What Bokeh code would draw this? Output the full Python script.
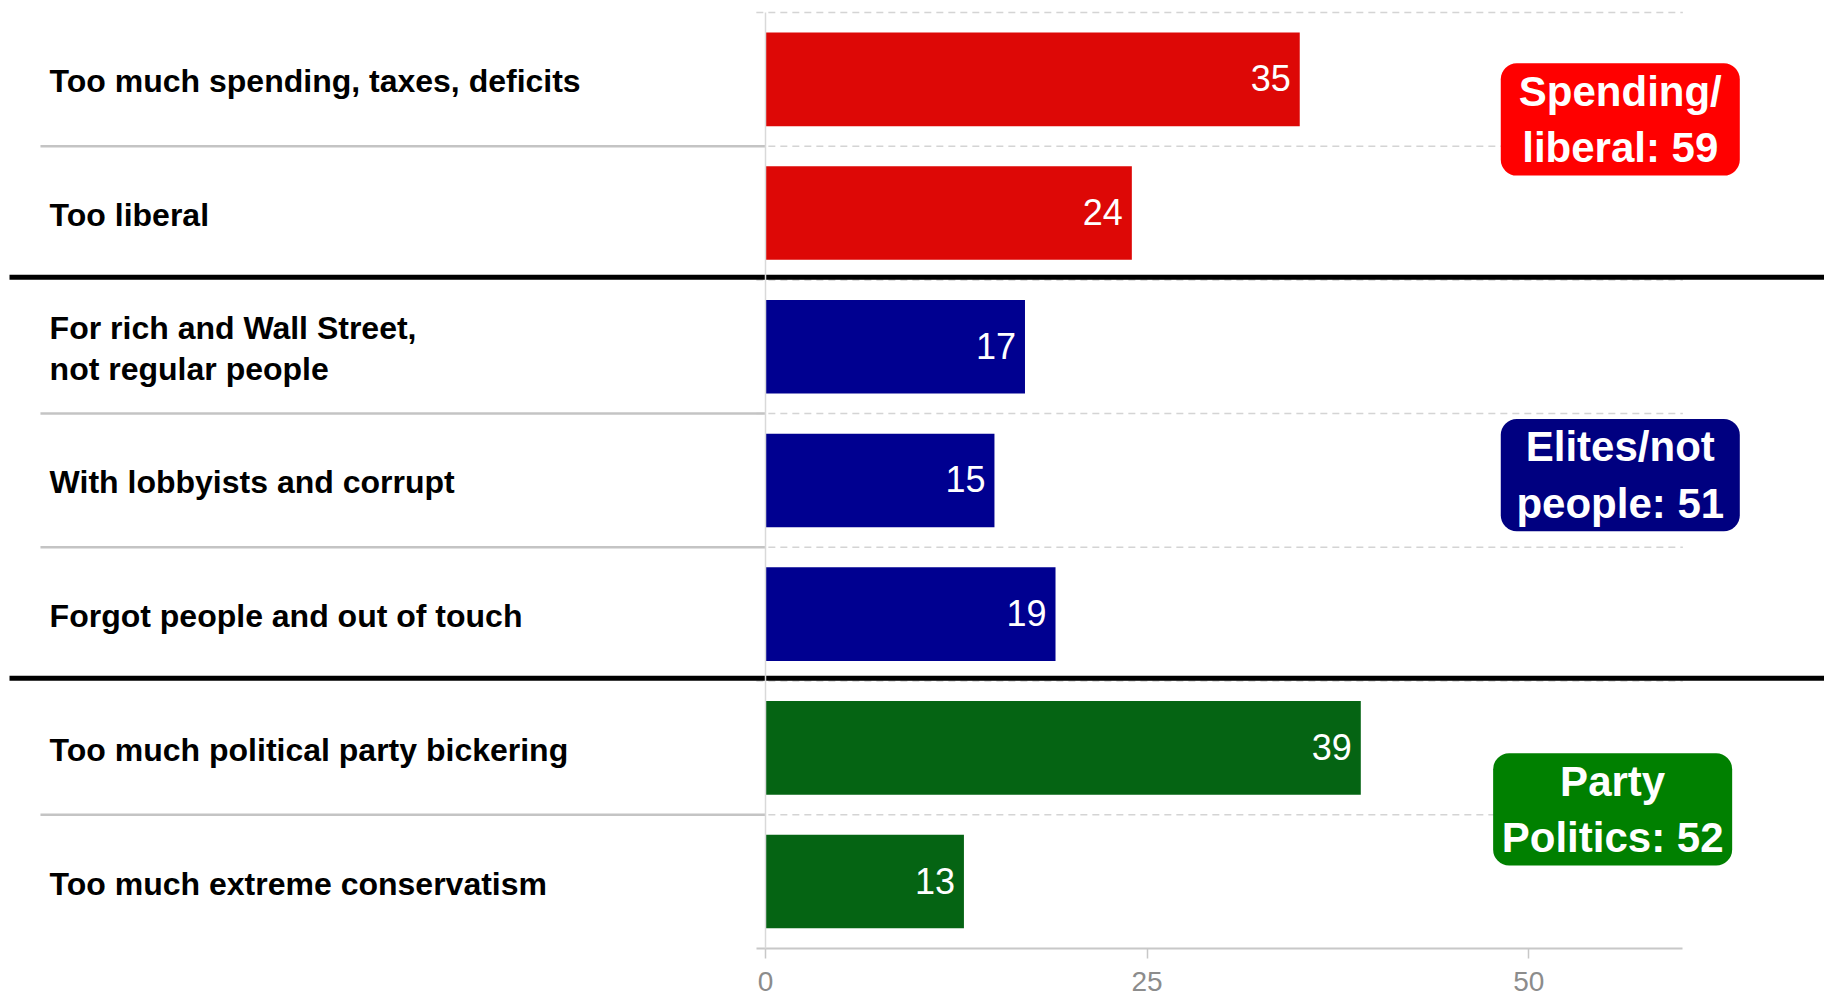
from bokeh.plotting import figure
from bokeh.models import LinearAxis, FixedTicker, Range1d, ColumnDataSource
from bokeh.core.properties import value
from bokeh.embed import file_html
from bokeh.resources import INLINE

# ---------------- data ----------------
categories = [
    "Too much spending, taxes, deficits",
    "Too liberal",
    "For rich and Wall Street,\nnot regular people",
    "With lobbyists and corrupt",
    "Forgot people and out of touch",
    "Too much political party bickering",
    "Too much extreme conservatism",
]
values = [35, 24, 17, 15, 19, 39, 13]
group_of_row = [0, 0, 1, 1, 1, 2, 2]
group_names = ["Spending/\nliberal", "Elites/not\npeople", "Party\nPolitics"]
x_ticks = [0, 25, 50]

# ---------------- style / layout ----------------
bar_colors = ["#dd0806", "#000090", "#056413"]
box_colors = ["#ff0000", "#000080", "#008000"]
FONT = value("Liberation Sans")

W, H = 1824, 1005
PX_PER_UNIT = 15.264      # pixels per x unit
ZERO_X = 765              # canvas x of value 0
ROW_PX = 133.7            # pixels per row
TOP_PX = 12               # canvas y of upper edge of first row

rows = list(range(len(categories)))
n = len(rows)

x_start = -ZERO_X / PX_PER_UNIT
x_end = (W - ZERO_X) / PX_PER_UNIT
y_top = -0.5 - TOP_PX / ROW_PX
y_bottom = -0.5 + (H - TOP_PX) / ROW_PX

p = figure(width=W, height=H, output_backend="svg", toolbar_location=None,
           x_range=Range1d(x_start, x_end), y_range=Range1d(y_bottom, y_top),
           x_axis_location=None, y_axis_location=None,
           min_border=0, min_border_left=0, min_border_right=0,
           min_border_top=0, min_border_bottom=0)
p.outline_line_color = None
p.grid.grid_line_color = None
p.background_fill_color = "white"
p.border_fill_color = "white"

# dashed row gridlines in the bar area
bounds_y = [r - 0.5 for r in rows]
p.segment(x0=[-0.6] * n, x1=[60.1] * n, y0=bounds_y, y1=bounds_y,
          line_color="#d4d4d4", line_width=1.5, line_dash="7 5")

# grey separators in the label area (within a group)
sep_y = [r + 0.5 for r in rows[:-1] if group_of_row[r] == group_of_row[r + 1]]
p.segment(x0=[-47.5] * len(sep_y), x1=[0] * len(sep_y), y0=sep_y, y1=sep_y,
          line_color="#c4c4c4", line_width=2.5)

# black separators between groups
grp_y = [r + 0.48 for r in rows[:-1] if group_of_row[r] != group_of_row[r + 1]]
p.segment(x0=[x_start + 9 / PX_PER_UNIT] * len(grp_y), x1=[x_end] * len(grp_y),
          y0=grp_y, y1=grp_y, line_color="black", line_width=5)

# bars
src = ColumnDataSource(dict(
    y=rows, v=values, cat=categories,
    color=[bar_colors[g] for g in group_of_row],
    label=[str(v) for v in values],
))
p.hbar(y="y", left=0, right="v", height=0.7, fill_color="color",
       line_color=None, source=src)

# value labels inside bars
p.text(x="v", y="y", text="label", source=src, x_offset=-9, y_offset=-1,
       text_align="right", text_baseline="middle", text_color="white",
       text_font=FONT, text_font_size="36px")

# row labels
p.text(x=[-46.9] * n, y=rows, text=categories, text_align="left",
       text_baseline="middle", text_color="black", text_font=FONT,
       text_font_style="bold", text_font_size="32px", text_line_height=1.15,
       y_offset=2)

# group boxes
group_totals = [sum(v for v, g in zip(values, group_of_row) if g == k)
                for k in range(len(group_names))]
box_y = [0.30, 2.96, 5.46]
box_x = [56.0, 56.0, 55.5]
p.rect(x=box_x, y=box_y, width=15.66, height=0.84, fill_color=box_colors,
       line_color=None, border_radius=16)
p.text(x=box_x, y=box_y,
       text=[f"{nm}: {t}" for nm, t in zip(group_names, group_totals)],
       text_align="center", text_baseline="middle", text_color="white",
       text_font=FONT, text_font_style="bold", text_font_size="42px",
       text_line_height=1.2)

# axes
xaxis = LinearAxis(fixed_location=rows[-1] + 0.5, bounds=(-0.6, 60.1),
                   ticker=FixedTicker(ticks=x_ticks))
xaxis.axis_line_color = "#c8c8c8"
xaxis.axis_line_width = 2
xaxis.major_tick_line_color = "#c8c8c8"
xaxis.major_tick_line_width = 1.5
xaxis.major_tick_out = 10
xaxis.major_tick_in = 0
xaxis.minor_tick_out = 0
xaxis.minor_tick_in = 0
xaxis.major_label_text_font = "Liberation Sans"
xaxis.major_label_text_font_size = "28px"
xaxis.major_label_text_color = "#8c8c8c"
xaxis.major_label_standoff = 14
p.add_layout(xaxis, "below")

yaxis = LinearAxis(fixed_location=0, bounds=(-0.5, rows[-1] + 0.5),
                   ticker=FixedTicker(ticks=[]))
yaxis.axis_line_color = "#d9d9d9"
yaxis.axis_line_width = 1.5
yaxis.major_tick_out = 0
yaxis.major_tick_in = 0
yaxis.minor_tick_out = 0
yaxis.minor_tick_in = 0
yaxis.major_label_text_color = None
p.add_layout(yaxis, "left")

open("out.html", "w").write(file_html(p, INLINE))
